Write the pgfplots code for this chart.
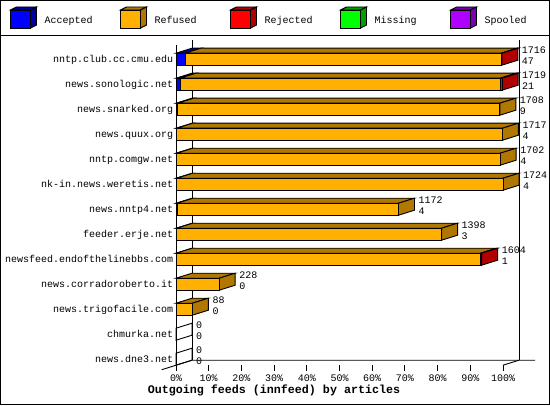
\documentclass[border=0pt]{standalone}
\usepackage{pgfplots}
\pgfplotsset{compat=1.18}
\usepackage{fontspec}
\newfontfamily\mono{Liberation Mono}
\definecolor{accF}{HTML}{0000FF}\definecolor{accD}{HTML}{0000A0}
\definecolor{refF}{HTML}{FFB000}\definecolor{refD}{HTML}{B07800}
\definecolor{rejF}{HTML}{FF0000}\definecolor{rejD}{HTML}{B00000}
\definecolor{misF}{HTML}{00FF00}\definecolor{misD}{HTML}{00A000}
\definecolor{spoF}{HTML}{B000FF}\definecolor{spoD}{HTML}{7800B0}
\tikzset{lbl/.style={inner sep=0pt,font=\mono\fontsize{10bp}{12bp}\selectfont}}
\begin{document}
\begin{tikzpicture}[x=1bp,y=1bp]
\fill[white] (0,0) rectangle (550,405);
% legend
\foreach \k/\f/\d/\t in {0/accF/accD/Accepted,1/refF/refD/Refused,2/rejF/rejD/Rejected,3/misF/misD/Missing,4/spoF/spoD/Spooled}{
  \pgfmathsetmacro\xo{10.5+110*\k}
  \filldraw[fill=\d,draw=black,line width=0.9bp] (\xo,395) -- (\xo+20,395) -- (\xo+26,398) -- (\xo+6,398) -- cycle;
  \filldraw[fill=\d,draw=black,line width=0.9bp] (\xo+20,377) -- (\xo+20,395) -- (\xo+26,398) -- (\xo+26,380) -- cycle;
  \filldraw[fill=\f,draw=black,line width=0.9bp] (\xo,377) rectangle (\xo+20,395);
  \node[lbl,anchor=base west] at (\xo+34,381.5) {\t};
}
\draw[line width=1bp] (0,370) -- (550,370);
% axis 1: walls, top and side faces, labels
\begin{axis}[at={(143.3bp,20.8bp)},anchor=south west,x=3.27bp,y=25bp,
  xmin=-10,xmax=110,ymin=-1,ymax=14,hide axis,clip=false]
\addplot[draw=black,line width=0.9bp] coordinates {(4.89,-0.04) (4.89,12.77)};
\addplot[draw=black,line width=0.9bp] coordinates {(104.89,-0.04) (104.89,12.77)};
\addplot[draw=black,line width=0.9bp] coordinates {(0,-0.24) (0,12.57)};
\addplot[draw=black,line width=0.9bp] coordinates {(-4.37,-0.42) (4.89,-0.04) (109.8,-0.04)};
\addplot[draw=black,line width=0.9bp] coordinates {(104.89,-0.04) (100,-0.24)};
\pgfplotsinvokeforeach{0,10,...,100}{
  \addplot[draw=black,line width=0.9bp] coordinates {(#1,-0.24) (#1,-0.48)};
  \node[lbl,anchor=base] at (axis cs:#1,-0.9) {#1\%};
}
% row 12
\addplot[fill=accD,draw=black,line width=0.9bp] coordinates {(0,12.24) (2.74,12.24) (7.63,12.44) (4.89,12.44)} -- cycle;
\addplot[fill=refD,draw=black,line width=0.9bp] coordinates {(2.74,12.24) (99.44,12.24) (104.33,12.44) (7.63,12.44)} -- cycle;
\addplot[fill=rejD,draw=black,line width=0.9bp] coordinates {(99.44,12.24) (99.64,12.24) (104.53,12.44) (104.33,12.44)} -- cycle;
\addplot[fill=rejD,draw=black,line width=0.9bp] coordinates {(99.64,11.76) (99.64,12.24) (104.53,12.44) (104.53,11.96)} -- cycle;
% row 11
\addplot[fill=accD,draw=black,line width=0.9bp] coordinates {(0,11.24) (1.22,11.24) (6.11,11.44) (4.89,11.44)} -- cycle;
\addplot[fill=refD,draw=black,line width=0.9bp] coordinates {(1.22,11.24) (99.12,11.24) (104.01,11.44) (6.11,11.44)} -- cycle;
\addplot[fill=rejD,draw=black,line width=0.9bp] coordinates {(99.12,11.24) (99.72,11.24) (104.61,11.44) (104.01,11.44)} -- cycle;
\addplot[fill=rejD,draw=black,line width=0.9bp] coordinates {(99.72,10.76) (99.72,11.24) (104.61,11.44) (104.61,10.96)} -- cycle;
% row 10
\addplot[fill=accD,draw=black,line width=0.9bp] coordinates {(0,10.24) (0.53,10.24) (5.42,10.44) (4.89,10.44)} -- cycle;
\addplot[fill=refD,draw=black,line width=0.9bp] coordinates {(0.53,10.24) (99.03,10.24) (103.92,10.44) (5.42,10.44)} -- cycle;
\addplot[fill=refD,draw=black,line width=0.9bp] coordinates {(99.03,9.76) (99.03,10.24) (103.92,10.44) (103.92,9.96)} -- cycle;
% row 9
\addplot[fill=accD,draw=black,line width=0.9bp] coordinates {(0,9.24) (0.23,9.24) (5.12,9.44) (4.89,9.44)} -- cycle;
\addplot[fill=refD,draw=black,line width=0.9bp] coordinates {(0.23,9.24) (99.83,9.24) (104.72,9.44) (5.12,9.44)} -- cycle;
\addplot[fill=refD,draw=black,line width=0.9bp] coordinates {(99.83,8.76) (99.83,9.24) (104.72,9.44) (104.72,8.96)} -- cycle;
% row 8
\addplot[fill=accD,draw=black,line width=0.9bp] coordinates {(0,8.24) (0.24,8.24) (5.13,8.44) (4.89,8.44)} -- cycle;
\addplot[fill=refD,draw=black,line width=0.9bp] coordinates {(0.24,8.24) (99.14,8.24) (104.03,8.44) (5.13,8.44)} -- cycle;
\addplot[fill=refD,draw=black,line width=0.9bp] coordinates {(99.14,7.76) (99.14,8.24) (104.03,8.44) (104.03,7.96)} -- cycle;
% row 7
\addplot[fill=accD,draw=black,line width=0.9bp] coordinates {(0,7.24) (0.23,7.24) (5.12,7.44) (4.89,7.44)} -- cycle;
\addplot[fill=refD,draw=black,line width=0.9bp] coordinates {(0.23,7.24) (100,7.24) (104.89,7.44) (5.12,7.44)} -- cycle;
\addplot[fill=refD,draw=black,line width=0.9bp] coordinates {(100,6.76) (100,7.24) (104.89,7.44) (104.89,6.96)} -- cycle;
% row 6
\addplot[fill=accD,draw=black,line width=0.9bp] coordinates {(0,6.24) (0.34,6.24) (5.23,6.44) (4.89,6.44)} -- cycle;
\addplot[fill=refD,draw=black,line width=0.9bp] coordinates {(0.34,6.24) (68.04,6.24) (72.93,6.44) (5.23,6.44)} -- cycle;
\addplot[fill=refD,draw=black,line width=0.9bp] coordinates {(68.04,5.76) (68.04,6.24) (72.93,6.44) (72.93,5.96)} -- cycle;
% row 5
\addplot[fill=accD,draw=black,line width=0.9bp] coordinates {(0,5.24) (0.21,5.24) (5.10,5.44) (4.89,5.44)} -- cycle;
\addplot[fill=refD,draw=black,line width=0.9bp] coordinates {(0.21,5.24) (81.21,5.24) (86.10,5.44) (5.10,5.44)} -- cycle;
\addplot[fill=refD,draw=black,line width=0.9bp] coordinates {(81.21,4.76) (81.21,5.24) (86.10,5.44) (86.10,4.96)} -- cycle;
% row 4
\addplot[fill=accD,draw=black,line width=0.9bp] coordinates {(0,4.24) (0.06,4.24) (4.95,4.44) (4.89,4.44)} -- cycle;
\addplot[fill=refD,draw=black,line width=0.9bp] coordinates {(0.06,4.24) (93.16,4.24) (98.05,4.44) (4.95,4.44)} -- cycle;
\addplot[fill=rejD,draw=black,line width=0.9bp] coordinates {(93.16,4.24) (93.46,4.24) (98.35,4.44) (98.05,4.44)} -- cycle;
\addplot[fill=rejD,draw=black,line width=0.9bp] coordinates {(93.46,3.76) (93.46,4.24) (98.35,4.44) (98.35,3.96)} -- cycle;
% row 3
\addplot[fill=refD,draw=black,line width=0.9bp] coordinates {(0,3.24) (13.2,3.24) (18.09,3.44) (4.89,3.44)} -- cycle;
\addplot[fill=refD,draw=black,line width=0.9bp] coordinates {(13.2,2.76) (13.2,3.24) (18.09,3.44) (18.09,2.96)} -- cycle;
% row 2
\addplot[fill=refD,draw=black,line width=0.9bp] coordinates {(0,2.24) (5,2.24) (9.89,2.44) (4.89,2.44)} -- cycle;
\addplot[fill=refD,draw=black,line width=0.9bp] coordinates {(5,1.76) (5,2.24) (9.89,2.44) (9.89,1.96)} -- cycle;
% rows 1, 0 (zero)
\addplot[draw=black,line width=0.9bp] coordinates {(0,0.76) (0,1.24) (4.89,1.44) (4.89,0.96)} -- cycle;
\addplot[draw=black,line width=0.9bp] coordinates {(0,-0.24) (0,0.24) (4.89,0.44) (4.89,-0.04)} -- cycle;
% host labels
\node[lbl,anchor=base east] at (axis cs:-0.8,11.86) {nntp.club.cc.cmu.edu};
\node[lbl,anchor=base east] at (axis cs:-0.8,10.86) {news.sonologic.net};
\node[lbl,anchor=base east] at (axis cs:-0.8,9.86) {news.snarked.org};
\node[lbl,anchor=base east] at (axis cs:-0.8,8.86) {news.quux.org};
\node[lbl,anchor=base east] at (axis cs:-0.8,7.86) {nntp.comgw.net};
\node[lbl,anchor=base east] at (axis cs:-0.8,6.86) {nk-in.news.weretis.net};
\node[lbl,anchor=base east] at (axis cs:-0.8,5.86) {news.nntp4.net};
\node[lbl,anchor=base east] at (axis cs:-0.8,4.86) {feeder.erje.net};
\node[lbl,anchor=base east] at (axis cs:-0.8,3.86) {newsfeed.endofthelinebbs.com};
\node[lbl,anchor=base east] at (axis cs:-0.8,2.86) {news.corradoroberto.it};
\node[lbl,anchor=base east] at (axis cs:-0.8,1.86) {news.trigofacile.com};
\node[lbl,anchor=base east] at (axis cs:-0.8,0.86) {chmurka.net};
\node[lbl,anchor=base east] at (axis cs:-0.8,-0.14) {news.dne3.net};
% value labels
\node[lbl,anchor=base west] at (axis cs:105.74,12.21) {1716};
\node[lbl,anchor=base west] at (axis cs:105.74,11.77) {47};
\node[lbl,anchor=base west] at (axis cs:105.82,11.21) {1719};
\node[lbl,anchor=base west] at (axis cs:105.82,10.77) {21};
\node[lbl,anchor=base west] at (axis cs:105.13,10.21) {1708};
\node[lbl,anchor=base west] at (axis cs:105.13,9.77) {9};
\node[lbl,anchor=base west] at (axis cs:105.93,9.21) {1717};
\node[lbl,anchor=base west] at (axis cs:105.93,8.77) {4};
\node[lbl,anchor=base west] at (axis cs:105.24,8.21) {1702};
\node[lbl,anchor=base west] at (axis cs:105.24,7.77) {4};
\node[lbl,anchor=base west] at (axis cs:106.1,7.21) {1724};
\node[lbl,anchor=base west] at (axis cs:106.1,6.77) {4};
\node[lbl,anchor=base west] at (axis cs:74.14,6.21) {1172};
\node[lbl,anchor=base west] at (axis cs:74.14,5.77) {4};
\node[lbl,anchor=base west] at (axis cs:87.31,5.21) {1398};
\node[lbl,anchor=base west] at (axis cs:87.31,4.77) {3};
\node[lbl,anchor=base west] at (axis cs:99.56,4.21) {1604};
\node[lbl,anchor=base west] at (axis cs:99.56,3.77) {1};
\node[lbl,anchor=base west] at (axis cs:19.3,3.21) {228};
\node[lbl,anchor=base west] at (axis cs:19.3,2.77) {0};
\node[lbl,anchor=base west] at (axis cs:11.1,2.21) {88};
\node[lbl,anchor=base west] at (axis cs:11.1,1.77) {0};
\node[lbl,anchor=base west] at (axis cs:6.1,1.21) {0};
\node[lbl,anchor=base west] at (axis cs:6.1,0.77) {0};
\node[lbl,anchor=base west] at (axis cs:6.1,0.21) {0};
\node[lbl,anchor=base west] at (axis cs:6.1,-0.23) {0};
\end{axis}
% axis 2: front faces
\begin{axis}[at={(143.3bp,20.8bp)},anchor=south west,x=3.27bp,y=25bp,
  xmin=-10,xmax=110,ymin=-1,ymax=14,hide axis,clip=false,
  xbar stacked,bar width=12bp]
\addplot[fill=accF,draw=black,line width=0.9bp] coordinates {(2.74,12) (1.22,11) (0.53,10) (0.23,9) (0.24,8) (0.23,7) (0.34,6) (0.21,5) (0.06,4) (0,3) (0,2) (0,1) (0,0)};
\addplot[fill=refF,draw=black,line width=0.9bp] coordinates {(96.7,12) (97.9,11) (98.5,10) (99.6,9) (98.9,8) (99.77,7) (67.7,6) (81.0,5) (93.1,4) (13.2,3) (5.0,2) (0,1) (0,0)};
\addplot[fill=rejF,draw=black,line width=0.9bp] coordinates {(0.2,12) (0.6,11) (0,10) (0,9) (0,8) (0,7) (0,6) (0,5) (0.3,4) (0,3) (0,2) (0,1) (0,0)};
\end{axis}
\node[anchor=base,inner sep=0pt,font=\mono\bfseries\fontsize{11.67bp}{14bp}\selectfont] at (274,11.5) {Outgoing feeds (innfeed) by articles};
\draw[line width=1bp] (0.5,0.5) rectangle (549.5,404.5);
\pgfresetboundingbox
\path (0,0) rectangle (550,405);
\end{tikzpicture}
\end{document}
